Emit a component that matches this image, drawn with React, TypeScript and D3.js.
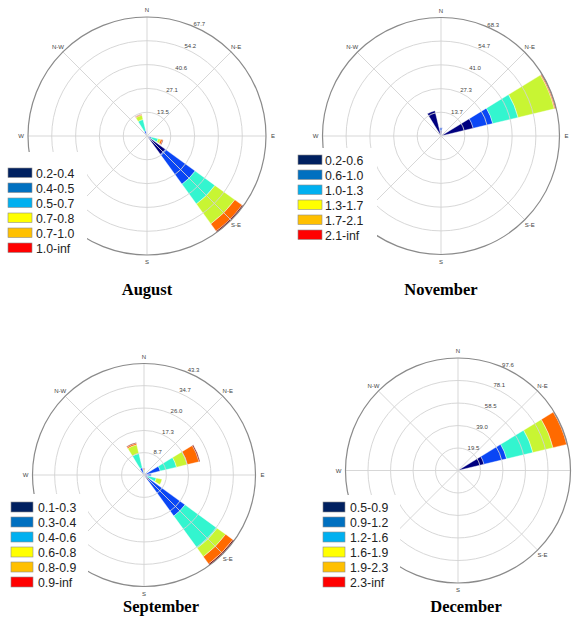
import React from "react";
import * as d3 from "d3";

// ---------- data ----------
const DIRECTION_LABELS = ["N", "N-E", "E", "S-E", "S", "S-W", "W", "N-W"];
const BAR_COLORS = ["#00007f", "#0a46f5", "#33f5cf", "#c8f533", "#ff6a00", "#7f0000"];
const LEGEND_COLORS = ["#002060", "#0070c0", "#00b0f0", "#ffff00", "#ffc000", "#ff0000"];

const augustBins = ["0.2-0.4", "0.4-0.5", "0.5-0.7", "0.7-0.8", "0.7-1.0", "1.0-inf"];
const augustTicks = ["13.5", "27.1", "40.6", "54.2", "67.7"];
const augustDirs = [112.5, 135, 337.5];
const augustValues = [
  [1.0, 1.5, 4.0, 1.5, 1.1, 0.4],
  [12.9, 21.0, 13.9, 14.0, 5.1, 0.8],
  [0.5, 2.5, 6.7, 2.5, 0.5, 0.2],
];

const novemberBins = ["0.2-0.6", "0.6-1.0", "1.0-1.3", "1.3-1.7", "1.7-2.1", "2.1-inf"];
const novemberTicks = ["13.7", "27.3", "41.0", "54.7", "68.3"];
const novemberDirs = [0, 67.5, 337.5];
const novemberValues = [
  [3.0, 1.8, 0, 0, 0, 0],
  [19.1, 11.6, 15.0, 21.5, 0.6, 0.5],
  [15.0, 0, 0, 0, 0, 0],
];

const septemberBins = ["0.1-0.3", "0.3-0.4", "0.4-0.6", "0.6-0.8", "0.8-0.9", "0.9-inf"];
const septemberTicks = ["8.7", "17.3", "26.0", "34.7", "43.3"];
const septemberDirs = [0, 67.5, 90, 112.5, 135, 337.5];
const septemberValues = [
  [0.5, 0.5, 0.5, 0.5, 0.5, 0.2],
  [1.0, 5.5, 6.5, 4.3, 4.7, 0.4],
  [1.2, 1.6, 0, 0, 0, 0],
  [0.5, 1.0, 3.4, 2.3, 0, 0],
  [2.5, 17.2, 15.4, 4.1, 3.5, 0.6],
  [0.5, 2.4, 5.7, 3.5, 0.6, 0.3],
];

const decemberBins = ["0.5-0.9", "0.9-1.2", "1.2-1.6", "1.6-1.9", "1.9-2.3", "2.3-inf"];
const decemberTicks = ["19.5", "39.0", "58.5", "78.1", "97.6"];
const decemberDirs = [67.5];
const decemberValues = [[23.2, 20.2, 23.4, 18.0, 12.2, 0.6]];

// ---------- components ----------
const WIDTH = 574;
const HEIGHT = 620;

type Legend = { x: number; y: number; w: number; h: number; boxX: number; boxW: number; boxH: number; top: number; textX: number };
type PanelProps = {
  title: string;
  bins: string[];
  ticks: string[];
  dirs: number[];
  values: number[][];
  cx: number;
  cy: number;
  R: number;
  legend: Legend;
  titleX: number;
  titleY: number;
};

const rad = (deg: number) => (deg * Math.PI) / 180;

function Panel(p: PanelProps) {
  const maxVal = parseFloat(p.ticks[p.ticks.length - 1]);
  const r = d3.scaleLinear().domain([0, maxVal]).range([0, p.R]);
  const arc = d3.arc<any>();
  const halfWidth = (22.5 * 0.8) / 2;
  const gridColor = "#d2d2d2";
  const lg = p.legend;

  const bars: any[] = [];
  p.dirs.forEach((dir, di) => {
    let acc = 0;
    p.values[di].forEach((v, bi) => {
      if (v <= 0) return;
      const d = arc({
        innerRadius: r(acc),
        outerRadius: r(acc + v),
        startAngle: rad(dir - halfWidth),
        endAngle: rad(dir + halfWidth),
      });
      acc += v;
      bars.push(<path key={`${di}-${bi}`} d={d || ""} fill={BAR_COLORS[bi]} stroke="#ffffff" strokeWidth={0.4} />);
    });
  });

  const tickAngle = rad(22.5);
  const dirLabels = DIRECTION_LABELS.map((lab, i) => {
    const a = rad(i * 45);
    const rr = p.R + 7;
    return { lab, x: p.cx + rr * Math.sin(a), y: p.cy - rr * Math.cos(a) };
  }).filter(
    (d) =>
      d.x > 4 &&
      d.x < WIDTH - 4 &&
      !(d.x > lg.x && d.x < lg.x + lg.w && d.y > lg.y && d.y < lg.y + lg.h)
  );

  return (
    <g>
      <g transform={`translate(${p.cx},${p.cy})`}>
        {bars}
        {p.ticks.slice(0, -1).map((t) => (
          <circle key={t} r={r(parseFloat(t))} fill="none" stroke={gridColor} strokeWidth={0.9} />
        ))}
        {d3.range(8).map((i) => {
          const a = rad(i * 45);
          return (
            <line key={i} x1={0} y1={0} x2={p.R * Math.sin(a)} y2={-p.R * Math.cos(a)} stroke={gridColor} strokeWidth={0.9} />
          );
        })}
        <circle r={p.R} fill="none" stroke="#8a8a8a" strokeWidth={1.2} />
        {p.ticks.map((t) => {
          const rr = r(parseFloat(t));
          return (
            <text key={t} x={rr * Math.sin(tickAngle) + 1} y={-rr * Math.cos(tickAngle)} fontSize={6} fill="#444" fontFamily="Liberation Sans, Arial, sans-serif">
              {t}
            </text>
          );
        })}
      </g>
      {dirLabels.map((d) => (
        <text key={d.lab} x={d.x} y={d.y} fontSize={6} fill="#444" textAnchor="middle" dominantBaseline="central" fontFamily="Liberation Sans, Arial, sans-serif">
          {d.lab}
        </text>
      ))}
      <rect x={lg.x} y={lg.y} width={lg.w} height={lg.h} fill="#ffffff" />
      {p.bins.map((b, i) => (
        <g key={b}>
          <rect x={lg.boxX} y={lg.top + i * 15} width={lg.boxW} height={lg.boxH} fill={LEGEND_COLORS[i]} stroke="#8c8c8c" strokeWidth={0.6} />
          <text x={lg.textX} y={lg.top + i * 15 + 10} fontSize={12.3} fill="#222" fontFamily="Liberation Sans, Arial, sans-serif">
            {b}
          </text>
        </g>
      ))}
      <text x={p.titleX} y={p.titleY} textAnchor="middle" fontSize={16.5} fontWeight="bold" fontFamily="Liberation Serif, Times New Roman, serif" fill="#000">
        {p.title}
      </text>
    </g>
  );
}

export default function App() {
  return (
    <svg width={WIDTH} height={HEIGHT} style={{ position: "absolute", left: 0, top: 0, background: "#fff" }}>
      <rect width={WIDTH} height={HEIGHT} fill="#fff" />
      <Panel
        title="August"
        bins={augustBins}
        ticks={augustTicks}
        dirs={augustDirs}
        values={augustValues}
        cx={147}
        cy={136}
        R={119}
        legend={{ x: 0, y: 152, w: 87, h: 105, boxX: 8, boxW: 24, boxH: 9.5, top: 168, textX: 36 }}
        titleX={147}
        titleY={295}
      />
      <Panel
        title="November"
        bins={novemberBins}
        ticks={novemberTicks}
        dirs={novemberDirs}
        values={novemberValues}
        cx={441}
        cy={136}
        R={118.5}
        legend={{ x: 290, y: 148, w: 87, h: 109, boxX: 298, boxW: 24, boxH: 9.5, top: 155, textX: 325 }}
        titleX={441}
        titleY={295}
      />
      <Panel
        title="September"
        bins={septemberBins}
        ticks={septemberTicks}
        dirs={septemberDirs}
        values={septemberValues}
        cx={144}
        cy={475}
        R={111.5}
        legend={{ x: 0, y: 494, w: 88, h: 96, boxX: 11, boxW: 22, boxH: 10, top: 502, textX: 38 }}
        titleX={161}
        titleY={612}
      />
      <Panel
        title="December"
        bins={decemberBins}
        ticks={decemberTicks}
        dirs={decemberDirs}
        values={decemberValues}
        cx={458}
        cy={470.5}
        R={112.5}
        legend={{ x: 318, y: 495, w: 82, h: 92, boxX: 323, boxW: 22, boxH: 10, top: 502, textX: 350 }}
        titleX={466}
        titleY={612}
      />
    </svg>
  );
}
